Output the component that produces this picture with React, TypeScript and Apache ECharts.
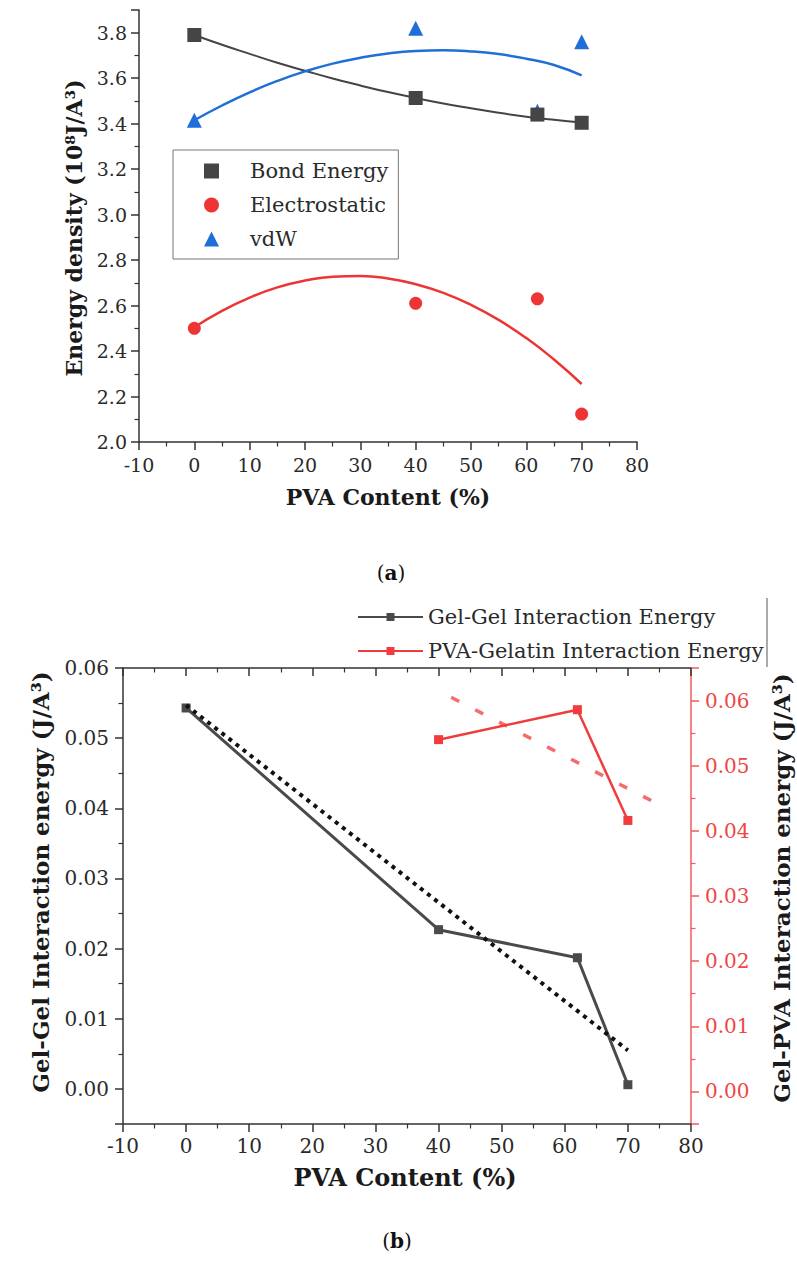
import React, { useEffect, useRef } from 'react';
import * as echarts from 'echarts';

// ---------- Data (a) ----------
const pvaContent = [0, 40, 62, 70];
const bondEnergy = [3.79, 3.513, 3.44, 3.404];
const electrostatic = [2.5, 2.61, 2.63, 2.123];
const vdw = [3.415, 3.82, 3.455, 3.76];

// fitted curves
const fitX = [0, 5, 10, 15, 20, 25, 30, 35, 40, 45, 50, 55, 60, 65, 70];
const bondFit = [3.79, 3.747, 3.707, 3.668, 3.633, 3.599, 3.568, 3.539, 3.513, 3.489, 3.468, 3.448, 3.431, 3.417, 3.405];
const elecFit = [2.505, 2.577, 2.635, 2.68, 2.71, 2.727, 2.73, 2.719, 2.694, 2.656, 2.603, 2.537, 2.457, 2.363, 2.255];
const vdwFit = [3.415, 3.48, 3.538, 3.588, 3.63, 3.664, 3.69, 3.709, 3.72, 3.723, 3.718, 3.706, 3.686, 3.658, 3.612];

// ---------- Data (b) ----------
const gelGelX = [0, 40, 62, 70];
const gelGel = [0.0543, 0.0227, 0.0187, 0.0006];
const gelTrendX = [0, 70];
const gelTrend = [0.0547, 0.0055];
const pvaGelX = [40, 62, 70];
const pvaGel = [0.054, 0.0586, 0.0416];
const pvaTrendX = [42, 74];
const pvaTrend = [0.0605, 0.0445];

const zip = (xs: number[], ys: number[]) => xs.map((x, i) => [x, ys[i]]);

const FONT = '"DejaVu Serif", serif';
const DARK = '#2a2a2a';

const axisLineStyle = (color: string) => ({ show: true, onZero: false, lineStyle: { color, width: 1.5 } });
const tick = (color: string, inside = false) => ({ show: true, inside, length: 8, lineStyle: { color, width: 1.5 } });
const minor = (color: string) => ({ show: true, splitNumber: 2, length: 4.5, lineStyle: { color, width: 1.2 } });

const fmt2 = (v: number) => {
  const r = Math.round(v / 0.01);
  if (Math.abs(v / 0.01 - r) > 1e-6) return '';
  return (r * 0.01).toFixed(2);
};

const option: any = {
  animation: false,
  backgroundColor: '#ffffff',
  textStyle: { fontFamily: FONT },
  grid: [
    { left: 139, top: 10, width: 498, height: 432 },
    { left: 123, top: 668, width: 568, height: 456 },
  ],
  xAxis: [
    {
      gridIndex: 0, type: 'value', min: -10, max: 80, interval: 10,
      axisLine: axisLineStyle('#333'), axisTick: tick('#333'), minorTick: minor('#333'),
      splitLine: { show: false },
      axisLabel: { fontSize: 19, color: DARK, margin: 13, fontFamily: FONT },
    },
    {
      gridIndex: 1, type: 'value', min: -10, max: 80, interval: 10, position: 'bottom',
      axisLine: axisLineStyle('#333'), axisTick: tick('#333'), minorTick: minor('#333'),
      splitLine: { show: false },
      axisLabel: { fontSize: 20, color: DARK, margin: 12, fontFamily: FONT },
    },
    {
      gridIndex: 1, type: 'value', min: -10, max: 80, interval: 10, position: 'top',
      axisLine: axisLineStyle('#333'), axisTick: tick('#333', true), minorTick: { ...minor('#333') },
      splitLine: { show: false },
      axisLabel: { show: false },
    },
  ],
  yAxis: [
    {
      gridIndex: 0, type: 'value', min: 2.0, max: 3.9, interval: 0.2,
      axisLine: axisLineStyle('#333'), axisTick: tick('#333'), minorTick: minor('#333'),
      splitLine: { show: false },
      axisLabel: {
        fontSize: 19, color: DARK, margin: 12, fontFamily: FONT, showMaxLabel: false,
        formatter: (v: number) => (v > 3.85 ? '' : v.toFixed(1)),
      },
    },
    {
      gridIndex: 1, type: 'value', min: -0.005, max: 0.06, splitNumber: 7, position: 'left',
      axisLine: axisLineStyle('#333'), axisTick: tick('#333'), minorTick: minor('#333'),
      splitLine: { show: false },
      axisLabel: { fontSize: 20, color: DARK, margin: 14, fontFamily: FONT, formatter: fmt2 },
    },
    {
      gridIndex: 1, type: 'value', min: -0.005, max: 0.065, splitNumber: 7, position: 'right',
      axisLine: axisLineStyle('#f25a5a'), axisTick: tick('#f25a5a'), minorTick: minor('#f25a5a'),
      splitLine: { show: false },
      axisLabel: { fontSize: 20, color: '#ef4545', margin: 14, fontFamily: FONT, formatter: fmt2 },
    },
  ],
  legend: [
    {
      data: [
        { name: 'Bond Energy', icon: 'rect' },
        { name: 'Electrostatic', icon: 'circle' },
        { name: 'vdW', icon: 'triangle' },
      ],
      orient: 'vertical', left: 173, top: 150,
      itemWidth: 15, itemHeight: 15, itemGap: 12,
      padding: [10, 10, 9, 31],
      borderColor: '#777', borderWidth: 1,
      selectedMode: false,
      textStyle: { fontSize: 21, color: DARK, fontFamily: FONT, lineHeight: 22, padding: [0, 0, 0, 26] },
    },
    {
      data: ['Gel-Gel Interaction Energy', 'PVA-Gelatin Interaction Energy'],
      orient: 'vertical', left: 357, top: 606,
      itemWidth: 65, itemHeight: 10, itemGap: 12,
      padding: 0,
      selectedMode: false,
      textStyle: { fontSize: 21, color: DARK, fontFamily: FONT, lineHeight: 22 },
    },
  ],
  series: [
    {
      name: 'Bond Energy fit', type: 'line', xAxisIndex: 0, yAxisIndex: 0, smooth: true,
      showSymbol: false, data: zip(fitX, bondFit), lineStyle: { color: '#444', width: 2 }, z: 2,
    },
    {
      name: 'Electrostatic fit', type: 'line', xAxisIndex: 0, yAxisIndex: 0, smooth: true,
      showSymbol: false, data: zip(fitX, elecFit), lineStyle: { color: '#ee3535', width: 2.5 }, z: 2,
    },
    {
      name: 'vdW fit', type: 'line', xAxisIndex: 0, yAxisIndex: 0, smooth: true,
      showSymbol: false, data: zip(fitX, vdwFit), lineStyle: { color: '#1f6fd8', width: 2.5 }, z: 2,
    },
    {
      name: 'vdW', type: 'scatter', xAxisIndex: 0, yAxisIndex: 0, symbol: 'triangle', symbolSize: 15,
      data: zip(pvaContent, vdw), itemStyle: { color: '#1f6fd8', opacity: 1 }, z: 3,
    },
    {
      name: 'Electrostatic', type: 'scatter', xAxisIndex: 0, yAxisIndex: 0, symbol: 'circle', symbolSize: 13,
      data: zip(pvaContent, electrostatic), itemStyle: { color: '#ee3535', opacity: 1 }, z: 3,
    },
    {
      name: 'Bond Energy', type: 'scatter', xAxisIndex: 0, yAxisIndex: 0, symbol: 'rect', symbolSize: 14,
      data: zip(pvaContent, bondEnergy), itemStyle: { color: '#454545', opacity: 1 }, z: 4,
    },
    {
      name: 'Gel-Gel Interaction Energy', type: 'line', xAxisIndex: 1, yAxisIndex: 1,
      symbol: 'rect', symbolSize: 9, data: zip(gelGelX, gelGel),
      lineStyle: { color: '#4a4a4a', width: 3 }, itemStyle: { color: '#4a4a4a' }, z: 3,
    },
    {
      name: 'Gel-Gel trend', type: 'line', xAxisIndex: 1, yAxisIndex: 1, showSymbol: false,
      data: zip(gelTrendX, gelTrend),
      lineStyle: { color: '#111', width: 4, type: [4, 5], cap: 'butt' }, z: 4,
    },
    {
      name: 'PVA-Gelatin Interaction Energy', type: 'line', xAxisIndex: 1, yAxisIndex: 2,
      symbol: 'rect', symbolSize: 9, data: zip(pvaGelX, pvaGel),
      lineStyle: { color: '#f03c3c', width: 2.5 }, itemStyle: { color: '#f03c3c' }, z: 3,
    },
    {
      name: 'PVA-Gelatin trend', type: 'line', xAxisIndex: 1, yAxisIndex: 2, showSymbol: false,
      data: zip(pvaTrendX, pvaTrend),
      lineStyle: { color: '#f46c6c', width: 3.5, type: [9, 18], cap: 'butt' }, z: 2,
    },
  ],
  graphic: [
    {
      type: 'text', x: 74, y: 228, rotation: Math.PI / 2,
      style: { text: 'Energy density (10⁸J/A³)', font: `bold 22px ${FONT}`, fill: '#1a1a1a', align: 'center', verticalAlign: 'middle' },
    },
    {
      type: 'text', x: 388, y: 497,
      style: { text: 'PVA Content (%)', font: `bold 22px ${FONT}`, fill: '#1a1a1a', align: 'center', verticalAlign: 'middle' },
    },
    {
      type: 'text', x: 391, y: 573,
      style: {
        text: '{p|(}{b|a}{p|)}', align: 'center', verticalAlign: 'middle',
        rich: { p: { fontSize: 20, fontFamily: FONT, fill: '#111' }, b: { fontSize: 20, fontWeight: 'bold', fontFamily: FONT, fill: '#111' } },
      },
    },
    {
      type: 'text', x: 40, y: 882, rotation: Math.PI / 2,
      style: { text: 'Gel-Gel Interaction energy (J/A³)', font: `bold 23px ${FONT}`, fill: '#1a1a1a', align: 'center', verticalAlign: 'middle' },
    },
    {
      type: 'text', x: 781, y: 888, rotation: Math.PI / 2,
      style: { text: 'Gel-PVA Interaction energy (J/A³)', font: `bold 23px ${FONT}`, fill: '#1a1a1a', align: 'center', verticalAlign: 'middle' },
    },
    {
      type: 'text', x: 405, y: 1177,
      style: { text: 'PVA Content (%)', font: `bold 24px ${FONT}`, fill: '#1a1a1a', align: 'center', verticalAlign: 'middle' },
    },
    {
      type: 'text', x: 397, y: 1241,
      style: {
        text: '{p|(}{b|b}{p|)}', align: 'center', verticalAlign: 'middle',
        rich: { p: { fontSize: 20, fontFamily: FONT, fill: '#111' }, b: { fontSize: 20, fontWeight: 'bold', fontFamily: FONT, fill: '#111' } },
      },
    },
    {
      type: 'line', shape: { x1: 767, y1: 598, x2: 767, y2: 667 },
      style: { stroke: '#555', lineWidth: 1 },
    },
  ],
};

export default function App() {
  const ref = useRef<HTMLDivElement>(null);
  useEffect(() => {
    if (!ref.current) return;
    const chart = echarts.init(ref.current, null, { renderer: 'svg' });
    chart.setOption(option);
    return () => chart.dispose();
  }, []);
  return (
    <div
      ref={ref}
      style={{ position: 'fixed', left: 0, top: 0, width: 797, height: 1275, background: '#fff' }}
    />
  );
}
